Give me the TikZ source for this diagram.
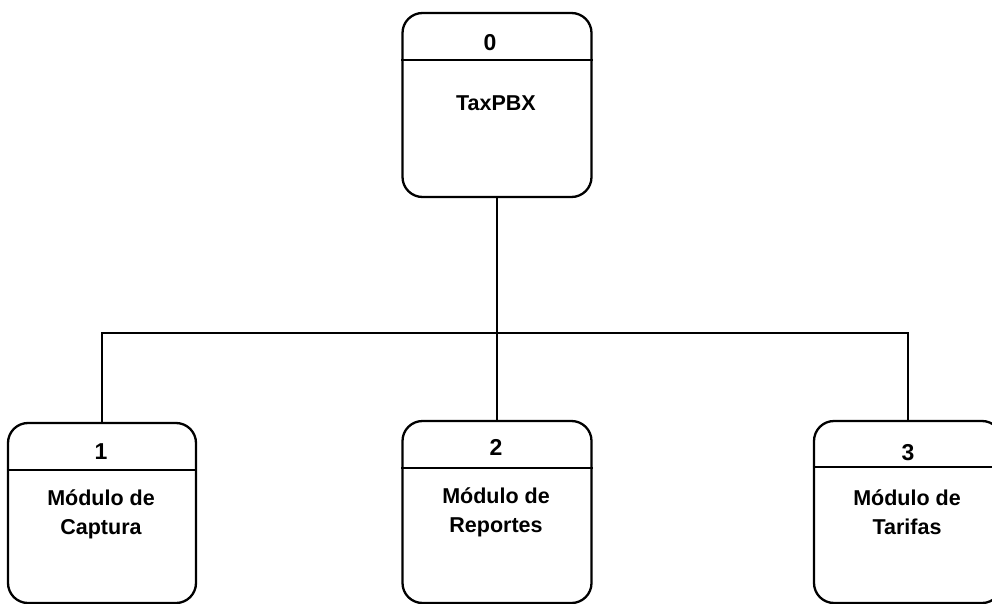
\documentclass[tikz,border=0pt]{standalone}
\usepackage{fontspec}
\setmainfont{Liberation Sans}
\begin{document}
\begin{tikzpicture}[x=1pt,y=-1pt,
  procbox/.style={draw, line width=2.3pt, rounded corners=20pt, inner sep=0pt},
  hdr/.style={line width=2.3pt},
  num/.style={font=\bfseries\fontsize{23}{28}\selectfont, inner sep=0pt},
  lbl/.style={font=\bfseries\fontsize{21.5}{29}\selectfont, align=center, inner sep=0pt},
  link/.style={line width=2.3pt}]
\useasboundingbox (0,0) rectangle (992,604);
% boxes
\node[procbox, minimum width=189pt, minimum height=184pt] (p0) at (497,105) {};
\node[procbox, minimum width=188pt, minimum height=180pt] (p1) at (102,513) {};
\node[procbox, minimum width=189pt, minimum height=182pt] (p2) at (497,512) {};
\node[procbox, minimum width=188pt, minimum height=182pt] (p3) at (908,512) {};
% header lines
\draw[hdr] ([yshift=-48pt]p0.north west) -- ([yshift=-48pt]p0.north east);
\draw[hdr] ([yshift=-48pt]p1.north west) -- ([yshift=-48pt]p1.north east);
\draw[hdr] ([yshift=-48pt]p2.north west) -- ([yshift=-48pt]p2.north east);
\draw[hdr] ([yshift=-47pt]p3.north west) -- ([yshift=-47pt]p3.north east);
% texts
\node[num] (n0) at (490,43) {0};
\node[lbl] (t0) at (496,103) {TaxPBX};
\node[num] (n1) at (101,452) {1};
\node[lbl] (t1) at (101,514) {Módulo de\\Captura};
\node[num] (n2) at (496,447) {2};
\node[lbl] (t2) at (496,512.5) {Módulo de\\Reportes};
\node[num] (n3) at (908,453) {3};
\node[lbl] (t3) at (907,512.5) {Módulo de\\Tarifas};
% connectors
\coordinate (j) at (497,333);
\draw[link] (p0.south) -- (j);
\draw[link] (j) -- (p2.north);
\draw[link] (p1.north) |- (j) -| (p3.north);
\end{tikzpicture}
\end{document}
